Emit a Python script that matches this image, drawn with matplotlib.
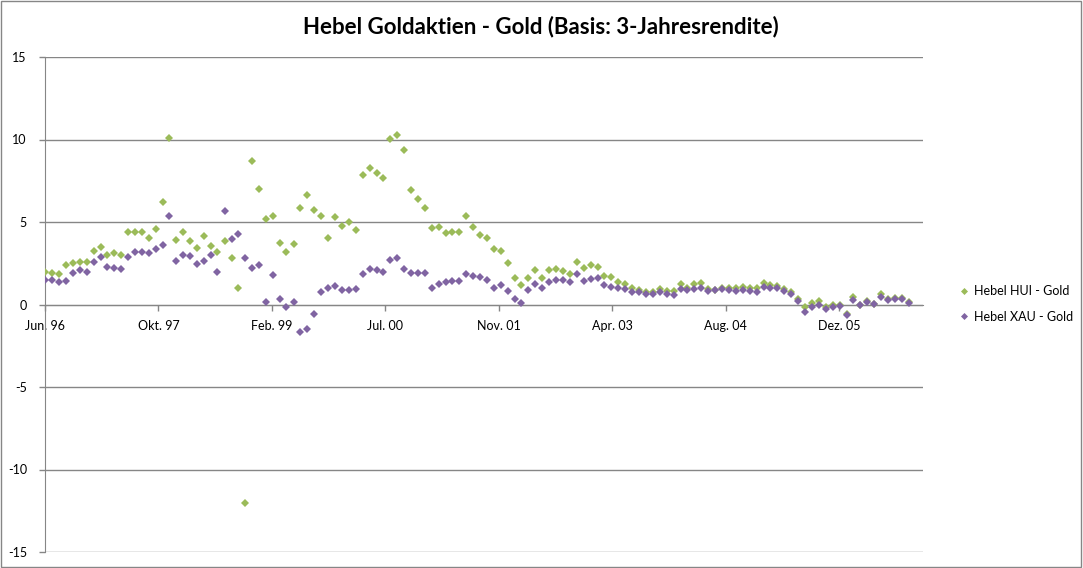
import matplotlib
matplotlib.use("Agg")
import matplotlib.pyplot as plt
from matplotlib.patches import Rectangle
import pandas as pd

plt.rcParams['font.family'] = ['Lato', 'DejaVu Sans']
plt.rcParams['axes.unicode_minus'] = False

title = "Hebel Goldaktien - Gold (Basis: 3-Jahresrendite)"
series_names = ["Hebel HUI - Gold", "Hebel XAU - Gold"]
start_date = "1996-06-01"
n_months = 126

hui = [2.0, 1.88, 1.82, 2.37, 2.51, 2.59, 2.57, 3.24, 3.51, 3.0,
       3.1, 2.98, 4.38, 4.38, 4.4, 4.01, 4.56, 6.22, 10.07, 3.89,
       4.42, 3.83, 3.44, 4.17, 3.57, 3.18, 3.85, 2.82, 0.97, -12.0,
       8.69, 6.97, 5.19, 5.37, 3.75, 3.16, 3.65, 5.84, 6.61, 5.73,
       5.35, 4.03, 5.31, 4.76, 5.0, 4.54, 7.82, 8.25, 7.96, 7.66,
       10.03, 10.25, 9.34, 6.91, 6.42, 5.84, 4.62, 4.68, 4.34, 4.40,
       4.40, 5.35, 4.68, 4.23, 4.03, 3.36, 3.24, 2.53, 1.62, 1.20,
       1.62, 2.07, 1.58, 2.07, 2.13, 2.03, 1.84, 2.55, 2.23, 2.37,
       2.27, 1.70, 1.64, 1.34, 1.24, 1.01, 0.85, 0.75, 0.75, 0.95,
       0.79, 0.81, 1.26, 1.01, 1.22, 1.30, 0.91, 0.87, 0.99, 1.03,
       1.01, 1.07, 1.03, 1.03, 1.30, 1.16, 1.14, 0.95, 0.77, 0.36,
       -0.18, 0.08, 0.20, -0.15, 0.0, 0.0, -0.59, 0.45, 0.0, 0.2,
       0.06, 0.65, 0.34, 0.41, 0.39, 0.18]

xau = [1.48, 1.48, 1.36, 1.44, 1.91, 2.09, 1.99, 2.57, 2.86, 2.25,
       2.19, 2.17, 2.88, 3.18, 3.18, 3.12, 3.34, 3.61, 5.39, 2.65,
       3.0, 2.94, 2.47, 2.65, 3.0, 2.0, 5.65, 3.97, 4.28, 2.82,
       2.23, 2.41, 0.14, 1.80, 0.32, -0.16, 0.16, -1.64, -1.46, -0.57,
       0.75, 0.97, 1.13, 0.89, 0.89, 0.95, 1.82, 2.15, 2.11, 2.0,
       2.71, 2.80, 2.13, 1.88, 1.88, 1.91, 1.03, 1.24, 1.38, 1.40,
       1.40, 1.86, 1.74, 1.64, 1.46, 1.01, 1.16, 0.81, 0.36, 0.10,
       0.87, 1.24, 1.01, 1.36, 1.48, 1.48, 1.36, 1.86, 1.44, 1.54,
       1.60, 1.20, 1.07, 0.97, 0.93, 0.77, 0.75, 0.61, 0.61, 0.75,
       0.63, 0.55, 0.93, 0.87, 0.91, 1.01, 0.79, 0.87, 0.95, 0.87,
       0.83, 0.87, 0.83, 0.77, 1.07, 1.01, 1.01, 0.79, 0.63, 0.20,
       -0.43, -0.14, 0.0, -0.28, -0.14, -0.08, -0.61, 0.30, -0.04, 0.14,
       0.04, 0.47, 0.26, 0.32, 0.32, 0.12]

xtick_labels = ["Jun. 96", "Okt. 97", "Feb. 99", "Jul. 00",
                "Nov. 01", "Apr. 03", "Aug. 04", "Dez. 05"]
yticks = [-15, -10, -5, 0, 5, 10, 15]

dates = pd.date_range(start_date, periods=n_months, freq="MS")
start = pd.Timestamp(start_date)
tick_dates = [start + pd.Timedelta(days=500 * k) for k in range(len(xtick_labels))]

fig = plt.figure(figsize=(10.83, 5.68), dpi=100)
ax = fig.add_axes([45 / 1083, 1 - 552 / 568, (923.3 - 45) / 1083, (552 - 57) / 568])

green = "#9BBB59"
purple = "#8064A2"
grid_c = "#868686"

ax.plot(dates, hui, linestyle="none", marker="D", markersize=4.2,
        color=green, markeredgewidth=0, label=series_names[0], zorder=3)
ax.plot(dates, xau, linestyle="none", marker="D", markersize=4.2,
        color=purple, markeredgewidth=0, label=series_names[1], zorder=4)

ax.set_ylim(-15, 15)
ax.set_yticks(yticks)
ax.set_xlim(start, start + pd.Timedelta(days=3870))
ax.set_xticks(tick_dates)
ax.set_xticklabels(xtick_labels)

ax.grid(axis="y", color=grid_c, linewidth=1.0)
ax.set_axisbelow(True)
for s in ["top", "right"]:
    ax.spines[s].set_visible(False)
ax.spines["left"].set_color(grid_c)
ax.spines["bottom"].set_color(grid_c)
ax.spines["bottom"].set_position(("data", 0))
ax.tick_params(axis="both", colors=grid_c, direction="out", length=4, width=1,
               labelcolor="black", labelsize=9)
ax.tick_params(axis="y", pad=9)
ax.tick_params(axis="x", pad=7)

fig.text(541 / 1083, 1 - 27 / 568, title, ha="center", va="center",
         fontsize=16, fontweight="bold")

leg = fig.legend(loc="upper left", bbox_to_anchor=(961 / 1083, 1 - 285 / 568),
                 frameon=False, fontsize=9, handlelength=0.5, handletextpad=0.5,
                 labelspacing=1.1, borderpad=0, borderaxespad=0, markerscale=0.85)

fig.patches.append(Rectangle((0.0005, 0.001), 0.998, 0.997, transform=fig.transFigure,
                             fill=False, edgecolor=grid_c, linewidth=1))

fig.savefig("out.png", dpi=100)
